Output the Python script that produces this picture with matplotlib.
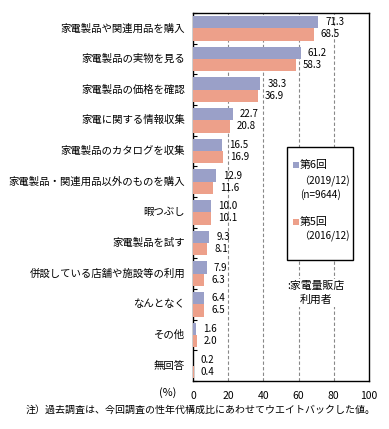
import matplotlib
matplotlib.use("Agg")
import matplotlib.pyplot as plt
import numpy as np

plt.rcParams['font.family'] = ['Noto Sans CJK JP', 'DejaVu Sans']

categories = ["家電製品や関連用品を購入", "家電製品の実物を見る", "家電製品の価格を確認",
              "家電に関する情報収集", "家電製品のカタログを収集", "家電製品・関連用品以外のものを購入",
              "暇つぶし", "家電製品を試す", "併設している店舗や施設等の利用", "なんとなく",
              "その他", "無回答"]
round6 = [71.3, 61.2, 38.3, 22.7, 16.5, 12.9, 10.0, 9.3, 7.9, 6.4, 1.6, 0.2]
round5 = [68.5, 58.3, 36.9, 20.8, 16.9, 11.6, 10.1, 8.1, 6.3, 6.5, 2.0, 0.4]
xticks = [0, 20, 40, 60, 80, 100]
legend6 = ["第6回", "（2019/12)", "(n=9644)"]
legend5 = ["第5回", "（2016/12)"]
note = "注）過去調査は、今回調査の性年代構成比にあわせてウエイトバックした値。"
group_note = ":家電量販店\n利用者"

c6 = "#9aa0c8"
c5 = "#eda08a"

W, H = 389, 429
fig = plt.figure(figsize=(W/100, H/100), dpi=100)
ax = fig.add_axes([193/W, 1-381/H, 176/W, 368/H])

n = len(categories)
y = np.arange(n)
bh = 0.4
ax.barh(y - bh/2, round6, height=bh, color=c6, zorder=3)
ax.barh(y + bh/2, round5, height=bh, color=c5, zorder=3)
for i in range(n):
    ax.text(round6[i] + 4, y[i] - bh/2, f"{round6[i]:.1f}", va='center', ha='left', fontsize=7, zorder=4)
    ax.text(round5[i] + 4, y[i] + bh/2, f"{round5[i]:.1f}", va='center', ha='left', fontsize=7, zorder=4)

ax.set_xlim(0, 100)
ax.set_ylim(n - 0.5, -0.5)
ax.set_xticks(xticks)
ax.set_xticklabels([str(t) for t in xticks], fontsize=7.5)
ax.tick_params(axis='x', length=0, pad=7)
for t in xticks[1:-1]:
    ax.axvline(t, color='#888888', linestyle=(0, (3, 2)), linewidth=0.8, zorder=1)
ax.set_yticks(np.arange(n + 1) - 0.5, minor=False)
ax.set_yticklabels([])
ax.tick_params(axis='y', direction='in', length=3, width=0.8)
for i, c in enumerate(categories):
    ax.text(-0.045, y[i], c, transform=ax.get_yaxis_transform(), ha='right', va='center', fontsize=7.5)
for s in ax.spines.values():
    s.set_linewidth(1.0)

fig.text(176/W, 1-393/H, "(%)", ha='right', va='center', fontsize=7.8)
fig.text(26/W, 1-410/H, note, ha='left', va='center', fontsize=7.2)

# legend box
from matplotlib.patches import Rectangle
lx0, lx1, ly0, ly1 = 287, 353, 147, 260
rect = Rectangle((lx0/W, 1-ly1/H), (lx1-lx0)/W, (ly1-ly0)/H, transform=fig.transFigure,
                 facecolor='white', edgecolor='black', linewidth=1.0, zorder=5)
fig.add_artist(rect)
fig.add_artist(Rectangle((293/W, 1-168/H), 6/W, 6/H, transform=fig.transFigure, facecolor=c6, edgecolor='none', zorder=6))
fig.text(300/W, 1-165/H, legend6[0], fontsize=7.8, va='center', ha='left', zorder=7)
fig.text(299/W, 1-181/H, legend6[1], fontsize=7.2, va='center', ha='left', zorder=7)
fig.text(300/W, 1-195/H, legend6[2], fontsize=7.2, va='center', ha='left', zorder=7)
fig.add_artist(Rectangle((293/W, 1-225/H), 6/W, 6/H, transform=fig.transFigure, facecolor=c5, edgecolor='none', zorder=6))
fig.text(300/W, 1-222/H, legend5[0], fontsize=7.8, va='center', ha='left', zorder=7)
fig.text(299/W, 1-236/H, legend5[1], fontsize=7.2, va='center', ha='left', zorder=7)
fig.text(316/W, 1-293/H, group_note, fontsize=7.8, va='center', ha='center', linespacing=1.5,
         bbox=dict(facecolor='white', edgecolor='none', pad=1), zorder=7)

fig.savefig("out.png", dpi=100)
